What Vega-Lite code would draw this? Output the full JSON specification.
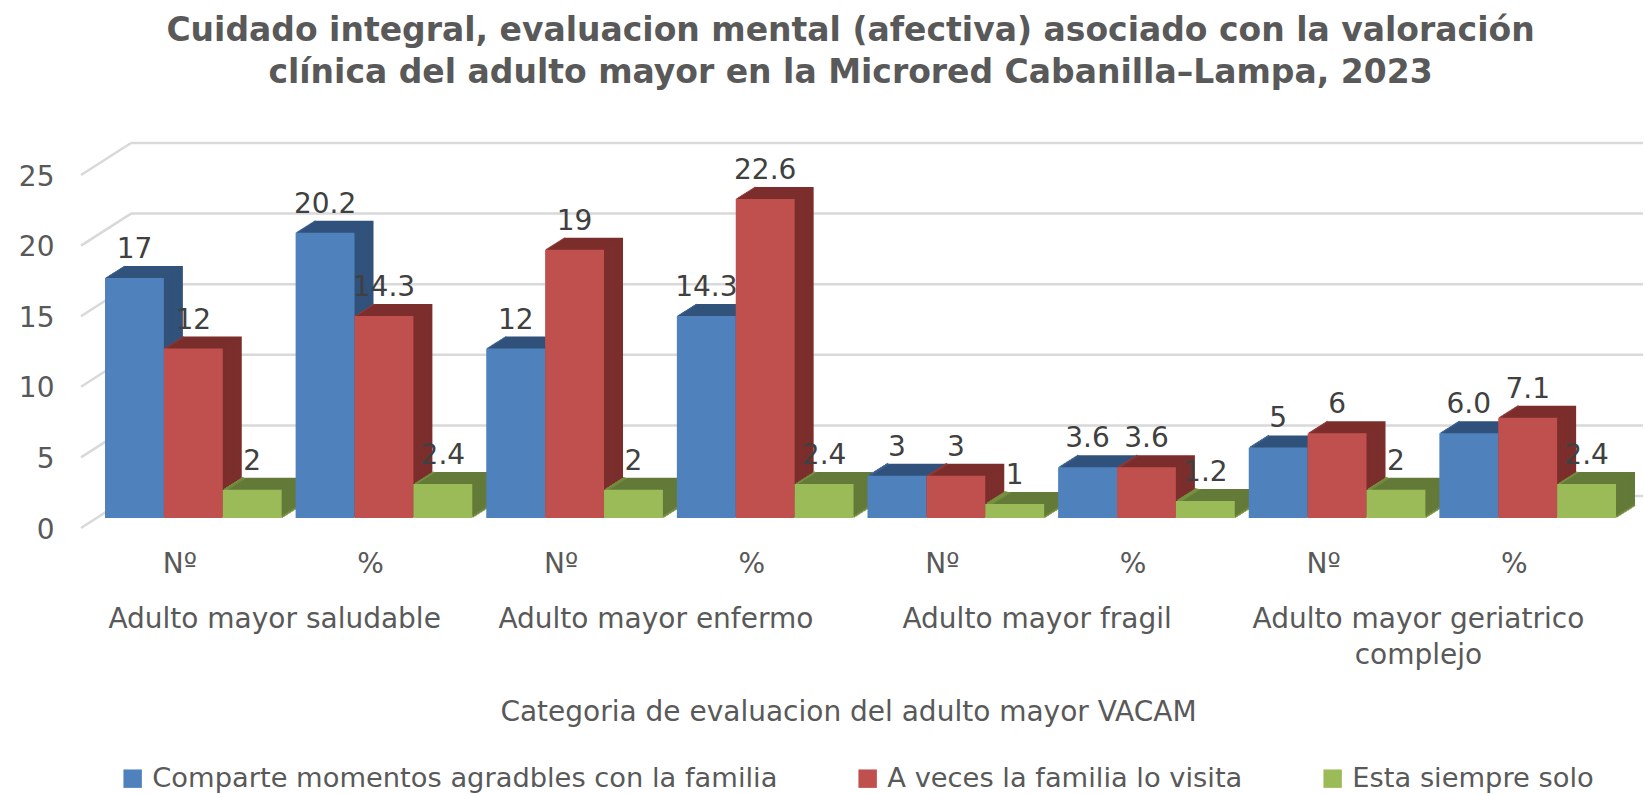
{
"$schema":"https://vega.github.io/schema/vega-lite/v6.json",
"autosize":{"type":"none"},
"width":1525,"height":353,
"padding":{"left":98,"top":165,"right":22,"bottom":276},
"background":"white",
"config":{"view":{"stroke":null},"font":"DejaVu Sans"},
"title":{"text":["Cuidado integral, evaluacion mental (afectiva) asociado con la valoración","clínica del adulto mayor en la Microred  Cabanilla–Lampa,  2023"],"font":"DejaVu Sans","fontSize":33,"fontWeight":"bold","color":"#595959","anchor":"middle","dx":-10,"offset":52,"lineHeight":42},
"datasets":{
"barras":[
{"columna":"Adulto mayor saludable|Nº","serie":"Comparte momentos agradbles con la familia","valor":17,"etiqueta":"17"},
{"columna":"Adulto mayor saludable|Nº","serie":"A veces la familia lo visita","valor":12,"etiqueta":"12"},
{"columna":"Adulto mayor saludable|Nº","serie":"Esta siempre solo","valor":2,"etiqueta":"2"},
{"columna":"Adulto mayor saludable|%","serie":"Comparte momentos agradbles con la familia","valor":20.2,"etiqueta":"20.2"},
{"columna":"Adulto mayor saludable|%","serie":"A veces la familia lo visita","valor":14.3,"etiqueta":"14.3"},
{"columna":"Adulto mayor saludable|%","serie":"Esta siempre solo","valor":2.4,"etiqueta":"2.4"},
{"columna":"Adulto mayor enfermo|Nº","serie":"Comparte momentos agradbles con la familia","valor":12,"etiqueta":"12"},
{"columna":"Adulto mayor enfermo|Nº","serie":"A veces la familia lo visita","valor":19,"etiqueta":"19"},
{"columna":"Adulto mayor enfermo|Nº","serie":"Esta siempre solo","valor":2,"etiqueta":"2"},
{"columna":"Adulto mayor enfermo|%","serie":"Comparte momentos agradbles con la familia","valor":14.3,"etiqueta":"14.3"},
{"columna":"Adulto mayor enfermo|%","serie":"A veces la familia lo visita","valor":22.6,"etiqueta":"22.6"},
{"columna":"Adulto mayor enfermo|%","serie":"Esta siempre solo","valor":2.4,"etiqueta":"2.4"},
{"columna":"Adulto mayor fragil|Nº","serie":"Comparte momentos agradbles con la familia","valor":3,"etiqueta":"3"},
{"columna":"Adulto mayor fragil|Nº","serie":"A veces la familia lo visita","valor":3,"etiqueta":"3"},
{"columna":"Adulto mayor fragil|Nº","serie":"Esta siempre solo","valor":1,"etiqueta":"1"},
{"columna":"Adulto mayor fragil|%","serie":"Comparte momentos agradbles con la familia","valor":3.6,"etiqueta":"3.6"},
{"columna":"Adulto mayor fragil|%","serie":"A veces la familia lo visita","valor":3.6,"etiqueta":"3.6"},
{"columna":"Adulto mayor fragil|%","serie":"Esta siempre solo","valor":1.2,"etiqueta":"1.2"},
{"columna":"Adulto mayor geriatrico complejo|Nº","serie":"Comparte momentos agradbles con la familia","valor":5,"etiqueta":"5"},
{"columna":"Adulto mayor geriatrico complejo|Nº","serie":"A veces la familia lo visita","valor":6,"etiqueta":"6"},
{"columna":"Adulto mayor geriatrico complejo|Nº","serie":"Esta siempre solo","valor":2,"etiqueta":"2"},
{"columna":"Adulto mayor geriatrico complejo|%","serie":"Comparte momentos agradbles con la familia","valor":6.0,"etiqueta":"6.0"},
{"columna":"Adulto mayor geriatrico complejo|%","serie":"A veces la familia lo visita","valor":7.1,"etiqueta":"7.1"},
{"columna":"Adulto mayor geriatrico complejo|%","serie":"Esta siempre solo","valor":2.4,"etiqueta":"2.4"}
],
"escala":[{"valor":0},{"valor":5},{"valor":10},{"valor":15},{"valor":20},{"valor":25}],
"grupos":[
{"orden":1,"grupo":"Adulto mayor saludable"},
{"orden":3,"grupo":"Adulto mayor enfermo"},
{"orden":5,"grupo":"Adulto mayor fragil"},
{"orden":7,"grupo":"Adulto mayor geriatrico\ncomplejo"}
]
},
"data":{"name":"barras"},
"layer":[
{"data":{"name":"escala"},
 "mark":{"type":"rule","color":"#d9d9d9","strokeWidth":2.5,"yOffset":-22,"y2Offset":-22},
 "encoding":{"x":{"value":33},"x2":{"value":1545},"y":{"field":"valor","type":"quantitative","scale":{"domain":[0,25],"nice":false}},"y2":{"field":"valor"}}},
{"data":{"name":"escala"},
 "mark":{"type":"rule","color":"#d9d9d9","strokeWidth":2.5,"yOffset":10,"y2Offset":-22},
 "encoding":{"x":{"value":-17},"x2":{"value":33},"y":{"field":"valor","type":"quantitative"},"y2":{"field":"valor"}}},
{"transform":[
  {"calculate":"indexof(['Adulto mayor saludable|Nº','Adulto mayor saludable|%','Adulto mayor enfermo|Nº','Adulto mayor enfermo|%','Adulto mayor fragil|Nº','Adulto mayor fragil|%','Adulto mayor geriatrico complejo|Nº','Adulto mayor geriatrico complejo|%'],datum.columna)+0.0367+indexof(['Comparte momentos agradbles con la familia','A veces la familia lo visita','Esta siempre solo'],datum.serie)*0.3089","as":"inicio"},
  {"calculate":"datum.inicio+0.3089","as":"fin"},
  {"calculate":"datum.inicio+0.1545","as":"medio"}
 ],
 "layer":[
 {"encoding":{
  "x":{"field":"inicio","type":"quantitative","scale":{"domain":[0,8],"nice":false,"zero":false},
     "axis":{"title":"Categoria de evaluacion del adulto mayor VACAM","titleFont":"DejaVu Sans","titleFontSize":28,"titleFontWeight":"normal","titleColor":"#595959","titleX":750,"titleY":180,"values":[0.5,1.5,2.5,3.5,4.5,5.5,6.5,7.5],"labelExpr":"floor(datum.value)%2==0?'Nº':'%'","labelAngle":0,"labelOffset":-14,"labelPadding":32,"labelFont":"DejaVu Sans","labelFontSize":28,"labelColor":"#595959","domain":false,"ticks":false,"grid":false,"labelOverlap":false,"labelFlush":false}},
  "x2":{"field":"fin"},
  "y":{"field":"valor","type":"quantitative","scale":{"domain":[0,25],"nice":false},
     "axis":{"title":null,"values":[0,5,10,15,20,25],"grid":false,"domain":false,"ticks":false,"labelOffset":12,"labelPadding":44,"labelFont":"DejaVu Sans","labelFontSize":28,"labelColor":"#595959"}},
  "y2":{"datum":0}
  },
  "layer":[
  {"encoding":{
    "fill":{"field":"serie","type":"nominal","legend":null,"scale":{"domain":["A veces la familia lo visita","Esta siempre solo","Comparte momentos agradbles con la familia"],"range":["#7b2e2c","#637a38","#31527b"]}},
    "stroke":{"field":"serie","type":"nominal","legend":null,"scale":{"domain":["Esta siempre solo","Comparte momentos agradbles con la familia","A veces la familia lo visita"],"range":["#76913f","#3c6291","#923a38"]}}
   },
   "layer":[
    {"mark":{"type":"rect","strokeWidth":0,"xOffset":19,"x2Offset":19,"yOffset":-12,"y2Offset":-12}},
    {"mark":{"type":"rule","orient":"horizontal","strokeWidth":2,"xOffset":19,"x2Offset":19,"yOffset":-12,"y2Offset":-12},"encoding":{"y2":{"field":"valor"}}},
    {"mark":{"type":"rect","strokeWidth":0,"xOffset":17.4,"x2Offset":17.4,"yOffset":-11,"y2Offset":-11}},
    {"mark":{"type":"rule","orient":"horizontal","strokeWidth":2,"xOffset":17.4,"x2Offset":17.4,"yOffset":-11,"y2Offset":-11},"encoding":{"y2":{"field":"valor"}}},
    {"mark":{"type":"rect","strokeWidth":0,"xOffset":15.8,"x2Offset":15.8,"yOffset":-10,"y2Offset":-10}},
    {"mark":{"type":"rule","orient":"horizontal","strokeWidth":2,"xOffset":15.8,"x2Offset":15.8,"yOffset":-10,"y2Offset":-10},"encoding":{"y2":{"field":"valor"}}},
    {"mark":{"type":"rect","strokeWidth":0,"xOffset":14.3,"x2Offset":14.3,"yOffset":-9,"y2Offset":-9}},
    {"mark":{"type":"rule","orient":"horizontal","strokeWidth":2,"xOffset":14.3,"x2Offset":14.3,"yOffset":-9,"y2Offset":-9},"encoding":{"y2":{"field":"valor"}}},
    {"mark":{"type":"rect","strokeWidth":0,"xOffset":12.7,"x2Offset":12.7,"yOffset":-8,"y2Offset":-8}},
    {"mark":{"type":"rule","orient":"horizontal","strokeWidth":2,"xOffset":12.7,"x2Offset":12.7,"yOffset":-8,"y2Offset":-8},"encoding":{"y2":{"field":"valor"}}},
    {"mark":{"type":"rect","strokeWidth":0,"xOffset":11.1,"x2Offset":11.1,"yOffset":-7,"y2Offset":-7}},
    {"mark":{"type":"rule","orient":"horizontal","strokeWidth":2,"xOffset":11.1,"x2Offset":11.1,"yOffset":-7,"y2Offset":-7},"encoding":{"y2":{"field":"valor"}}},
    {"mark":{"type":"rect","strokeWidth":0,"xOffset":9.5,"x2Offset":9.5,"yOffset":-6,"y2Offset":-6}},
    {"mark":{"type":"rule","orient":"horizontal","strokeWidth":2,"xOffset":9.5,"x2Offset":9.5,"yOffset":-6,"y2Offset":-6},"encoding":{"y2":{"field":"valor"}}},
    {"mark":{"type":"rect","strokeWidth":0,"xOffset":7.9,"x2Offset":7.9,"yOffset":-5,"y2Offset":-5}},
    {"mark":{"type":"rule","orient":"horizontal","strokeWidth":2,"xOffset":7.9,"x2Offset":7.9,"yOffset":-5,"y2Offset":-5},"encoding":{"y2":{"field":"valor"}}},
    {"mark":{"type":"rect","strokeWidth":0,"xOffset":6.3,"x2Offset":6.3,"yOffset":-4,"y2Offset":-4}},
    {"mark":{"type":"rule","orient":"horizontal","strokeWidth":2,"xOffset":6.3,"x2Offset":6.3,"yOffset":-4,"y2Offset":-4},"encoding":{"y2":{"field":"valor"}}},
    {"mark":{"type":"rect","strokeWidth":0,"xOffset":4.8,"x2Offset":4.8,"yOffset":-3,"y2Offset":-3}},
    {"mark":{"type":"rule","orient":"horizontal","strokeWidth":2,"xOffset":4.8,"x2Offset":4.8,"yOffset":-3,"y2Offset":-3},"encoding":{"y2":{"field":"valor"}}},
    {"mark":{"type":"rect","strokeWidth":0,"xOffset":3.2,"x2Offset":3.2,"yOffset":-2,"y2Offset":-2}},
    {"mark":{"type":"rule","orient":"horizontal","strokeWidth":2,"xOffset":3.2,"x2Offset":3.2,"yOffset":-2,"y2Offset":-2},"encoding":{"y2":{"field":"valor"}}},
    {"mark":{"type":"rect","strokeWidth":0,"xOffset":1.6,"x2Offset":1.6,"yOffset":-1,"y2Offset":-1}},
    {"mark":{"type":"rule","orient":"horizontal","strokeWidth":2,"xOffset":1.6,"x2Offset":1.6,"yOffset":-1,"y2Offset":-1},"encoding":{"y2":{"field":"valor"}}}
   ]},
  {"mark":{"type":"rect"},
   "encoding":{"color":{"field":"serie","type":"nominal","scale":{"domain":["Comparte momentos agradbles con la familia","A veces la familia lo visita","Esta siempre solo"],"range":["#4f81bd","#c0504d","#9bbb59"]},
     "legend":{"title":null,"orient":"none","legendX":21,"legendY":600,"direction":"horizontal","columns":3,"symbolType":"square","symbolSize":340,"labelFont":"DejaVu Sans","labelFontSize":27.3,"labelColor":"#595959","columnPadding":76,"labelOffset":6,"labelLimit":800}}}}
  ]},
 {"mark":{"type":"text","dy":-28,"baseline":"middle","align":"center","font":"DejaVu Sans","fontSize":28,"color":"#404040"},
  "encoding":{"x":{"field":"medio","type":"quantitative"},"y":{"field":"valor","type":"quantitative"},"text":{"field":"etiqueta","type":"nominal"}}}
 ]},
{"data":{"name":"grupos"},
 "mark":{"type":"text","dy":102,"dx":-14,"align":"center","baseline":"middle","font":"DejaVu Sans","fontSize":28,"color":"#595959","lineBreak":"\n","lineHeight":36},
 "encoding":{"x":{"field":"orden","type":"quantitative"},"y":{"datum":0,"type":"quantitative"},"text":{"field":"grupo","type":"nominal"}}}
]
}
